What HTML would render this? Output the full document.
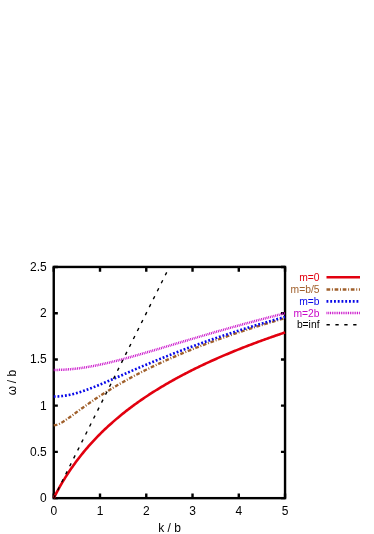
<!DOCTYPE html>
<html><head><meta charset="utf-8"><style>
html,body{margin:0;padding:0;background:#fff;}
svg{display:block;will-change:transform;filter:blur(0.35px)}
text{font-family:"Liberation Sans",sans-serif;font-size:12px;fill:#000}
.lg text{font-size:10.3px}
</style></head><body>
<svg width="374" height="534" viewBox="0 0 374 534">
<rect width="374" height="534" fill="#fff"/>
<g stroke="#000" stroke-width="2.4" fill="none">
<rect x="53.75" y="266.95" width="231.3" height="231.2"/>
<path d="M53.75,498.15 v-4.7 M53.75,266.95 v4.7"/><path d="M100.01,498.15 v-4.7 M100.01,266.95 v4.7"/><path d="M146.27,498.15 v-4.7 M146.27,266.95 v4.7"/><path d="M192.53,498.15 v-4.7 M192.53,266.95 v4.7"/><path d="M238.79,498.15 v-4.7 M238.79,266.95 v4.7"/><path d="M285.05,498.15 v-4.7 M285.05,266.95 v4.7"/><path d="M53.75,498.15 h4.1 M285.05,498.15 h-4.1"/><path d="M53.75,451.91 h4.1 M285.05,451.91 h-4.1"/><path d="M53.75,405.67 h4.1 M285.05,405.67 h-4.1"/><path d="M53.75,359.43 h4.1 M285.05,359.43 h-4.1"/><path d="M53.75,313.19 h4.1 M285.05,313.19 h-4.1"/><path d="M53.75,266.95 h4.1 M285.05,266.95 h-4.1"/>
</g>
<g fill="none" stroke-linecap="butt" stroke-linejoin="round">
<path d="M53.75,498.15 L54.91,495.86 L56.07,493.62 L57.24,491.43 L58.40,489.29 L59.56,487.21 L60.72,485.16 L61.89,483.17 L63.05,481.21 L64.21,479.30 L65.37,477.42 L66.54,475.58 L67.70,473.78 L68.86,472.01 L70.02,470.28 L71.18,468.57 L72.35,466.90 L73.51,465.26 L74.67,463.64 L75.83,462.06 L77.00,460.50 L78.16,458.96 L79.32,457.46 L80.48,455.97 L81.65,454.51 L82.81,453.07 L83.97,451.66 L85.13,450.26 L86.29,448.89 L87.46,447.53 L88.62,446.20 L89.78,444.88 L90.94,443.59 L92.11,442.31 L93.27,441.04 L94.43,439.80 L95.59,438.57 L96.76,437.36 L97.92,436.16 L99.08,434.98 L100.24,433.82 L101.40,432.66 L102.57,431.53 L103.73,430.40 L104.89,429.29 L106.05,428.20 L107.22,427.11 L108.38,426.04 L109.54,424.98 L110.70,423.93 L111.87,422.90 L113.03,421.87 L114.19,420.86 L115.35,419.86 L116.51,418.87 L117.68,417.89 L118.84,416.92 L120.00,415.96 L121.16,415.01 L122.33,414.06 L123.49,413.13 L124.65,412.21 L125.81,411.30 L126.98,410.39 L128.14,409.50 L129.30,408.61 L130.46,407.73 L131.62,406.86 L132.79,406.00 L133.95,405.15 L135.11,404.30 L136.27,403.46 L137.44,402.63 L138.60,401.81 L139.76,400.99 L140.92,400.18 L142.09,399.38 L143.25,398.59 L144.41,397.80 L145.57,397.02 L146.73,396.24 L147.90,395.47 L149.06,394.71 L150.22,393.95 L151.38,393.20 L152.55,392.46 L153.71,391.72 L154.87,390.99 L156.03,390.26 L157.20,389.54 L158.36,388.83 L159.52,388.12 L160.68,387.41 L161.84,386.71 L163.01,386.02 L164.17,385.33 L165.33,384.65 L166.49,383.97 L167.66,383.30 L168.82,382.63 L169.98,381.96 L171.14,381.30 L172.31,380.65 L173.47,380.00 L174.63,379.35 L175.79,378.71 L176.96,378.08 L178.12,377.44 L179.28,376.82 L180.44,376.19 L181.60,375.57 L182.77,374.96 L183.93,374.35 L185.09,373.74 L186.25,373.14 L187.42,372.54 L188.58,371.94 L189.74,371.35 L190.90,370.76 L192.07,370.18 L193.23,369.60 L194.39,369.02 L195.55,368.45 L196.71,367.88 L197.88,367.31 L199.04,366.75 L200.20,366.19 L201.36,365.63 L202.53,365.08 L203.69,364.53 L204.85,363.98 L206.01,363.44 L207.18,362.90 L208.34,362.36 L209.50,361.83 L210.66,361.30 L211.82,360.77 L212.99,360.25 L214.15,359.73 L215.31,359.21 L216.47,358.69 L217.64,358.18 L218.80,357.67 L219.96,357.16 L221.12,356.66 L222.29,356.16 L223.45,355.66 L224.61,355.16 L225.77,354.67 L226.93,354.18 L228.10,353.69 L229.26,353.20 L230.42,352.72 L231.58,352.24 L232.75,351.76 L233.91,351.28 L235.07,350.81 L236.23,350.34 L237.40,349.87 L238.56,349.40 L239.72,348.94 L240.88,348.48 L242.04,348.02 L243.21,347.56 L244.37,347.10 L245.53,346.65 L246.69,346.20 L247.86,345.75 L249.02,345.31 L250.18,344.86 L251.34,344.42 L252.51,343.98 L253.67,343.54 L254.83,343.11 L255.99,342.68 L257.15,342.24 L258.32,341.81 L259.48,341.39 L260.64,340.96 L261.80,340.54 L262.97,340.12 L264.13,339.70 L265.29,339.28 L266.45,338.86 L267.62,338.45 L268.78,338.04 L269.94,337.62 L271.10,337.22 L272.26,336.81 L273.43,336.40 L274.59,336.00 L275.75,335.60 L276.91,335.20 L278.08,334.80 L279.24,334.40 L280.40,334.01 L281.56,333.62 L282.73,333.23 L283.89,332.84 L285.05,332.45" stroke="#e2000f" stroke-width="2.6"/>
<path d="M53.75,425.23 L54.91,425.17 L56.07,424.97 L57.24,424.66 L58.40,424.24 L59.56,423.72 L60.72,423.14 L61.89,422.49 L63.05,421.79 L64.21,421.05 L65.37,420.28 L66.54,419.48 L67.70,418.67 L68.86,417.84 L70.02,417.01 L71.18,416.16 L72.35,415.32 L73.51,414.47 L74.67,413.61 L75.83,412.76 L77.00,411.91 L78.16,411.06 L79.32,410.22 L80.48,409.38 L81.65,408.54 L82.81,407.70 L83.97,406.87 L85.13,406.05 L86.29,405.22 L87.46,404.41 L88.62,403.60 L89.78,402.79 L90.94,401.99 L92.11,401.20 L93.27,400.41 L94.43,399.63 L95.59,398.85 L96.76,398.08 L97.92,397.31 L99.08,396.55 L100.24,395.79 L101.40,395.04 L102.57,394.29 L103.73,393.56 L104.89,392.82 L106.05,392.09 L107.22,391.37 L108.38,390.65 L109.54,389.93 L110.70,389.22 L111.87,388.52 L113.03,387.82 L114.19,387.13 L115.35,386.44 L116.51,385.76 L117.68,385.08 L118.84,384.40 L120.00,383.73 L121.16,383.07 L122.33,382.40 L123.49,381.75 L124.65,381.10 L125.81,380.45 L126.98,379.80 L128.14,379.17 L129.30,378.53 L130.46,377.90 L131.62,377.27 L132.79,376.65 L133.95,376.03 L135.11,375.42 L136.27,374.81 L137.44,374.20 L138.60,373.60 L139.76,373.00 L140.92,372.41 L142.09,371.81 L143.25,371.23 L144.41,370.64 L145.57,370.06 L146.73,369.48 L147.90,368.91 L149.06,368.34 L150.22,367.77 L151.38,367.21 L152.55,366.65 L153.71,366.10 L154.87,365.54 L156.03,364.99 L157.20,364.45 L158.36,363.90 L159.52,363.36 L160.68,362.82 L161.84,362.29 L163.01,361.76 L164.17,361.23 L165.33,360.70 L166.49,360.18 L167.66,359.66 L168.82,359.15 L169.98,358.63 L171.14,358.12 L172.31,357.61 L173.47,357.11 L174.63,356.60 L175.79,356.10 L176.96,355.61 L178.12,355.11 L179.28,354.62 L180.44,354.13 L181.60,353.64 L182.77,353.16 L183.93,352.68 L185.09,352.20 L186.25,351.72 L187.42,351.25 L188.58,350.77 L189.74,350.30 L190.90,349.84 L192.07,349.37 L193.23,348.91 L194.39,348.45 L195.55,347.99 L196.71,347.53 L197.88,347.08 L199.04,346.63 L200.20,346.18 L201.36,345.73 L202.53,345.29 L203.69,344.84 L204.85,344.40 L206.01,343.96 L207.18,343.53 L208.34,343.09 L209.50,342.66 L210.66,342.23 L211.82,341.80 L212.99,341.37 L214.15,340.95 L215.31,340.53 L216.47,340.10 L217.64,339.69 L218.80,339.27 L219.96,338.85 L221.12,338.44 L222.29,338.03 L223.45,337.62 L224.61,337.21 L225.77,336.80 L226.93,336.40 L228.10,336.00 L229.26,335.60 L230.42,335.20 L231.58,334.80 L232.75,334.40 L233.91,334.01 L235.07,333.62 L236.23,333.23 L237.40,332.84 L238.56,332.45 L239.72,332.06 L240.88,331.68 L242.04,331.30 L243.21,330.91 L244.37,330.53 L245.53,330.16 L246.69,329.78 L247.86,329.40 L249.02,329.03 L250.18,328.66 L251.34,328.29 L252.51,327.92 L253.67,327.55 L254.83,327.19 L255.99,326.82 L257.15,326.46 L258.32,326.10 L259.48,325.74 L260.64,325.38 L261.80,325.02 L262.97,324.66 L264.13,324.31 L265.29,323.95 L266.45,323.60 L267.62,323.25 L268.78,322.90 L269.94,322.55 L271.10,322.21 L272.26,321.86 L273.43,321.52 L274.59,321.17 L275.75,320.83 L276.91,320.49 L278.08,320.15 L279.24,319.81 L280.40,319.47 L281.56,319.14 L282.73,318.80 L283.89,318.47 L285.05,318.14" stroke="#a0602c" stroke-width="2.35" stroke-dasharray="3.7,1.7,1,1.7"/>
<path d="M53.75,396.55 L54.91,396.54 L56.07,396.51 L57.24,396.46 L58.40,396.40 L59.56,396.31 L60.72,396.20 L61.89,396.08 L63.05,395.94 L64.21,395.78 L65.37,395.60 L66.54,395.40 L67.70,395.19 L68.86,394.96 L70.02,394.72 L71.18,394.46 L72.35,394.18 L73.51,393.89 L74.67,393.59 L75.83,393.28 L77.00,392.95 L78.16,392.61 L79.32,392.26 L80.48,391.89 L81.65,391.52 L82.81,391.14 L83.97,390.74 L85.13,390.34 L86.29,389.93 L87.46,389.51 L88.62,389.08 L89.78,388.65 L90.94,388.21 L92.11,387.76 L93.27,387.31 L94.43,386.85 L95.59,386.39 L96.76,385.92 L97.92,385.45 L99.08,384.97 L100.24,384.49 L101.40,384.01 L102.57,383.52 L103.73,383.03 L104.89,382.54 L106.05,382.05 L107.22,381.55 L108.38,381.05 L109.54,380.55 L110.70,380.05 L111.87,379.54 L113.03,379.04 L114.19,378.53 L115.35,378.03 L116.51,377.52 L117.68,377.01 L118.84,376.50 L120.00,375.99 L121.16,375.49 L122.33,374.98 L123.49,374.47 L124.65,373.96 L125.81,373.45 L126.98,372.95 L128.14,372.44 L129.30,371.93 L130.46,371.43 L131.62,370.92 L132.79,370.42 L133.95,369.91 L135.11,369.41 L136.27,368.91 L137.44,368.41 L138.60,367.91 L139.76,367.41 L140.92,366.91 L142.09,366.42 L143.25,365.92 L144.41,365.43 L145.57,364.94 L146.73,364.45 L147.90,363.96 L149.06,363.47 L150.22,362.98 L151.38,362.50 L152.55,362.01 L153.71,361.53 L154.87,361.05 L156.03,360.57 L157.20,360.09 L158.36,359.62 L159.52,359.14 L160.68,358.67 L161.84,358.20 L163.01,357.73 L164.17,357.26 L165.33,356.80 L166.49,356.33 L167.66,355.87 L168.82,355.41 L169.98,354.95 L171.14,354.49 L172.31,354.03 L173.47,353.58 L174.63,353.13 L175.79,352.67 L176.96,352.22 L178.12,351.78 L179.28,351.33 L180.44,350.88 L181.60,350.44 L182.77,350.00 L183.93,349.56 L185.09,349.12 L186.25,348.68 L187.42,348.25 L188.58,347.82 L189.74,347.38 L190.90,346.95 L192.07,346.53 L193.23,346.10 L194.39,345.67 L195.55,345.25 L196.71,344.83 L197.88,344.41 L199.04,343.99 L200.20,343.57 L201.36,343.16 L202.53,342.74 L203.69,342.33 L204.85,341.92 L206.01,341.51 L207.18,341.10 L208.34,340.69 L209.50,340.29 L210.66,339.89 L211.82,339.48 L212.99,339.08 L214.15,338.69 L215.31,338.29 L216.47,337.89 L217.64,337.50 L218.80,337.11 L219.96,336.71 L221.12,336.32 L222.29,335.94 L223.45,335.55 L224.61,335.16 L225.77,334.78 L226.93,334.40 L228.10,334.01 L229.26,333.63 L230.42,333.26 L231.58,332.88 L232.75,332.50 L233.91,332.13 L235.07,331.75 L236.23,331.38 L237.40,331.01 L238.56,330.64 L239.72,330.28 L240.88,329.91 L242.04,329.54 L243.21,329.18 L244.37,328.82 L245.53,328.46 L246.69,328.10 L247.86,327.74 L249.02,327.38 L250.18,327.02 L251.34,326.67 L252.51,326.32 L253.67,325.96 L254.83,325.61 L255.99,325.26 L257.15,324.91 L258.32,324.57 L259.48,324.22 L260.64,323.88 L261.80,323.53 L262.97,323.19 L264.13,322.85 L265.29,322.51 L266.45,322.17 L267.62,321.83 L268.78,321.49 L269.94,321.16 L271.10,320.82 L272.26,320.49 L273.43,320.16 L274.59,319.83 L275.75,319.50 L276.91,319.17 L278.08,318.84 L279.24,318.51 L280.40,318.19 L281.56,317.86 L282.73,317.54 L283.89,317.21 L285.05,316.89" stroke="#0808e8" stroke-width="2.6" stroke-dasharray="1.85,1.9"/>
<path d="M53.75,369.95 L54.91,369.94 L56.07,369.93 L57.24,369.91 L58.40,369.89 L59.56,369.85 L60.72,369.81 L61.89,369.77 L63.05,369.71 L64.21,369.65 L65.37,369.58 L66.54,369.51 L67.70,369.42 L68.86,369.33 L70.02,369.24 L71.18,369.14 L72.35,369.03 L73.51,368.91 L74.67,368.79 L75.83,368.66 L77.00,368.52 L78.16,368.38 L79.32,368.23 L80.48,368.07 L81.65,367.91 L82.81,367.74 L83.97,367.57 L85.13,367.39 L86.29,367.21 L87.46,367.02 L88.62,366.82 L89.78,366.62 L90.94,366.42 L92.11,366.21 L93.27,365.99 L94.43,365.77 L95.59,365.54 L96.76,365.31 L97.92,365.08 L99.08,364.84 L100.24,364.59 L101.40,364.35 L102.57,364.09 L103.73,363.84 L104.89,363.58 L106.05,363.31 L107.22,363.04 L108.38,362.77 L109.54,362.50 L110.70,362.22 L111.87,361.94 L113.03,361.65 L114.19,361.36 L115.35,361.07 L116.51,360.78 L117.68,360.48 L118.84,360.18 L120.00,359.88 L121.16,359.58 L122.33,359.27 L123.49,358.96 L124.65,358.65 L125.81,358.33 L126.98,358.02 L128.14,357.70 L129.30,357.38 L130.46,357.06 L131.62,356.74 L132.79,356.41 L133.95,356.08 L135.11,355.76 L136.27,355.43 L137.44,355.09 L138.60,354.76 L139.76,354.43 L140.92,354.09 L142.09,353.76 L143.25,353.42 L144.41,353.08 L145.57,352.74 L146.73,352.40 L147.90,352.06 L149.06,351.72 L150.22,351.38 L151.38,351.03 L152.55,350.69 L153.71,350.34 L154.87,350.00 L156.03,349.65 L157.20,349.31 L158.36,348.96 L159.52,348.61 L160.68,348.27 L161.84,347.92 L163.01,347.57 L164.17,347.22 L165.33,346.87 L166.49,346.53 L167.66,346.18 L168.82,345.83 L169.98,345.48 L171.14,345.13 L172.31,344.78 L173.47,344.43 L174.63,344.08 L175.79,343.74 L176.96,343.39 L178.12,343.04 L179.28,342.69 L180.44,342.34 L181.60,341.99 L182.77,341.65 L183.93,341.30 L185.09,340.95 L186.25,340.60 L187.42,340.26 L188.58,339.91 L189.74,339.57 L190.90,339.22 L192.07,338.87 L193.23,338.53 L194.39,338.19 L195.55,337.84 L196.71,337.50 L197.88,337.15 L199.04,336.81 L200.20,336.47 L201.36,336.13 L202.53,335.79 L203.69,335.45 L204.85,335.11 L206.01,334.77 L207.18,334.43 L208.34,334.09 L209.50,333.75 L210.66,333.41 L211.82,333.08 L212.99,332.74 L214.15,332.40 L215.31,332.07 L216.47,331.74 L217.64,331.40 L218.80,331.07 L219.96,330.74 L221.12,330.40 L222.29,330.07 L223.45,329.74 L224.61,329.41 L225.77,329.08 L226.93,328.75 L228.10,328.43 L229.26,328.10 L230.42,327.77 L231.58,327.45 L232.75,327.12 L233.91,326.80 L235.07,326.47 L236.23,326.15 L237.40,325.83 L238.56,325.51 L239.72,325.19 L240.88,324.87 L242.04,324.55 L243.21,324.23 L244.37,323.91 L245.53,323.59 L246.69,323.28 L247.86,322.96 L249.02,322.65 L250.18,322.33 L251.34,322.02 L252.51,321.70 L253.67,321.39 L254.83,321.08 L255.99,320.77 L257.15,320.46 L258.32,320.15 L259.48,319.84 L260.64,319.53 L261.80,319.23 L262.97,318.92 L264.13,318.61 L265.29,318.31 L266.45,318.01 L267.62,317.70 L268.78,317.40 L269.94,317.10 L271.10,316.80 L272.26,316.50 L273.43,316.20 L274.59,315.90 L275.75,315.60 L276.91,315.30 L278.08,315.00 L279.24,314.71 L280.40,314.41 L281.56,314.12 L282.73,313.82 L283.89,313.53 L285.05,313.24" stroke="#c808c8" stroke-width="2.5" stroke-dasharray="0.9,0.9"/>
<path d="M53.75,498.15 L169.40,266.95" stroke="#000" stroke-width="1.4" stroke-dasharray="3.3,5.6" stroke-dashoffset="0"/>
</g>

<g><text x="53.75" y="514.6" text-anchor="middle">0</text><text x="100.01" y="514.6" text-anchor="middle">1</text><text x="146.27" y="514.6" text-anchor="middle">2</text><text x="192.53" y="514.6" text-anchor="middle">3</text><text x="238.79" y="514.6" text-anchor="middle">4</text><text x="285.05" y="514.6" text-anchor="middle">5</text><text x="46.7" y="502.15" text-anchor="end">0</text><text x="46.7" y="455.91" text-anchor="end">0.5</text><text x="46.7" y="409.67" text-anchor="end">1</text><text x="46.7" y="363.43" text-anchor="end">1.5</text><text x="46.7" y="317.19" text-anchor="end">2</text><text x="46.7" y="270.95" text-anchor="end">2.5</text></g>
<text x="169.5" y="531.8" text-anchor="middle">k / b</text>
<text transform="translate(15.8,382.6) rotate(-90)" text-anchor="middle">ω<tspan dx="-0.7"> / b</tspan></text>
<g class="lg">
<text x="319.5" y="280.90000000000003" text-anchor="end" style="fill:#e2000f">m=0</text>
<text x="319.5" y="293.1" text-anchor="end" style="fill:#a0602c">m=b/5</text>
<text x="319.5" y="305.0" text-anchor="end" style="fill:#0808e8">m=b</text>
<text x="319.5" y="316.70000000000005" text-anchor="end" style="fill:#c808c8">m=2b</text>
<text x="319.5" y="328.3" text-anchor="end" style="fill:#000">b=inf</text>
</g>
<g fill="none">
<path d="M326.5,277.3 H360" stroke="#e2000f" stroke-width="2.6"/>
<path d="M326.5,289.5 H360" stroke="#a0602c" stroke-width="2.35" stroke-dasharray="3.7,1.7,1,1.7"/>
<path d="M326.5,301.4 H360" stroke="#0808e8" stroke-width="2.6" stroke-dasharray="1.85,1.9"/>
<path d="M326.5,313.1 H360" stroke="#c808c8" stroke-width="2.5" stroke-dasharray="0.9,0.9"/>
<path d="M326.5,324.7 H360" stroke="#000" stroke-width="1.4" stroke-dasharray="3.3,5.6"/>
</g>
</svg></body></html>
